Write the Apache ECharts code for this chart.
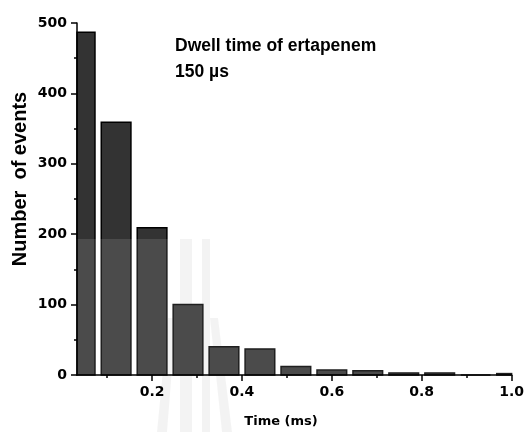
<!DOCTYPE html>
<html>
<head>
<meta charset="UTF-8">
<title>Dwell time of ertapenem</title>
<script src="https://cdn.jsdelivr.net/npm/echarts@6.0.0/dist/echarts.min.js"></script>
<style>
  html, body { margin: 0; padding: 0; background: #fff; }
  #main { width: 527px; height: 432px; }
</style>
</head>
<body>
<div id="main"></div>
<script>
// bin centres (ms) and counts
var binCentres = [0.04, 0.12, 0.20, 0.28, 0.36, 0.44, 0.52, 0.60, 0.68, 0.76, 0.84, 0.92, 1.00];
var counts = [487, 359, 209, 100, 40, 37, 12, 7, 6, 3, 3, 0, 2];
var xLabelTicks = [0.2, 0.4, 0.6, 0.8, 1.0];
var xMinorTicks = [0.1, 0.3, 0.5, 0.7, 0.9];

var barHalfWidth = 0.033; // drawn bar is a bit narrower than the 0.08 ms bin

var barData = binCentres.map(function (x, i) { return [x, counts[i]]; });

var tickFont = { color: '#000', fontFamily: 'DejaVu Sans', fontWeight: 'bold', fontSize: 14 };

function renderBar(params, api) {
  var x = api.value(0), y = api.value(1);
  var p0 = api.coord([x - barHalfWidth, y]);
  var p1 = api.coord([x + barHalfWidth, 0]);
  var rect = echarts.graphic.clipRectByRect(
    { x: p0[0], y: p0[1], width: p1[0] - p0[0], height: p1[1] - p0[1] },
    params.coordSys
  );
  if (!rect) return;
  return {
    type: 'rect',
    shape: rect,
    style: { fill: '#333', stroke: '#000', lineWidth: 1.5 }
  };
}

var chart = echarts.init(document.getElementById('main'));
chart.setOption({
  animation: false,
  backgroundColor: '#fff',
  grid: { left: 77, right: 13, top: 23, bottom: 57 },
  xAxis: [{
    type: 'value',
    min: 0.033,
    max: 1.0,
    z: 20,
    axisLine: { lineStyle: { color: '#000', width: 1.5 } },
    axisTick: { customValues: xLabelTicks, length: 6, lineStyle: { color: '#000', width: 1.5 } },
    axisLabel: Object.assign({
      customValues: xLabelTicks,
      margin: 10,
      formatter: function (v) { return v.toFixed(1); }
    }, tickFont),
    splitLine: { show: false }
  }, {
    type: 'value',
    position: 'bottom',
    min: 0.033,
    max: 1.0,
    z: 20,
    axisLine: { show: false },
    axisTick: { customValues: xMinorTicks, length: 3, lineStyle: { color: '#000', width: 1.5 } },
    axisLabel: { show: false },
    splitLine: { show: false }
  }],
  yAxis: {
    type: 'value',
    min: 0,
    max: 500,
    interval: 100,
    z: 20,
    axisLine: { show: true, lineStyle: { color: '#000', width: 1.5 } },
    axisTick: { show: true, length: 6, lineStyle: { color: '#000', width: 1.5 } },
    minorTick: { show: true, splitNumber: 2, length: 3, lineStyle: { color: '#000', width: 1.5 } },
    axisLabel: Object.assign({ margin: 10 }, tickFont),
    splitLine: { show: false }
  },
  series: [{
    type: 'custom',
    renderItem: renderBar,
    data: barData,
    encode: { x: 0, y: 1 },
    z: 3
  }],
  graphic: [
    // faint watermark behind the bars
    { type: 'polygon', z: 0, silent: true, shape: { points: [[180, 239], [192, 239], [192, 432], [180, 432]] }, style: { fill: 'rgba(0,0,0,0.05)' } },
    { type: 'polygon', z: 0, silent: true, shape: { points: [[202, 239], [210, 239], [210, 432], [202, 432]] }, style: { fill: 'rgba(0,0,0,0.05)' } },
    { type: 'polygon', z: 0, silent: true, shape: { points: [[168, 318], [176, 318], [167, 432], [157, 432]] }, style: { fill: 'rgba(0,0,0,0.05)' } },
    { type: 'polygon', z: 0, silent: true, shape: { points: [[210, 318], [218, 318], [232, 432], [222, 432]] }, style: { fill: 'rgba(0,0,0,0.05)' } },
    // lighter band over the lower part of the plot
    { type: 'rect', z: 10, silent: true, shape: { x: 0, y: 239, width: 527, height: 193 }, style: { fill: 'rgba(255,255,255,0.12)' } },
    {
      type: 'text', z: 11, left: 175, top: 37,
      style: { text: 'Dwell time of ertapenem', font: 'bold 17.5px "Liberation Sans", Arial', fill: '#000' }
    },
    {
      type: 'text', z: 11, left: 175, top: 63,
      style: { text: '150 \u00b5s', font: 'bold 17.5px "Liberation Sans", Arial', fill: '#000' }
    },
    {
      type: 'text', z: 11, x: 20, y: 179, rotation: Math.PI / 2,
      style: { text: 'Number  of events', font: 'bold 20px "Liberation Sans", Arial', fill: '#000', align: 'center', verticalAlign: 'middle' }
    },
    {
      type: 'text', z: 11, x: 281, y: 422,
      style: { text: 'Time (ms)', font: 'bold 13px "DejaVu Sans"', fill: '#000', align: 'center', verticalAlign: 'middle' }
    }
  ]
});
</script>
</body>
</html>
